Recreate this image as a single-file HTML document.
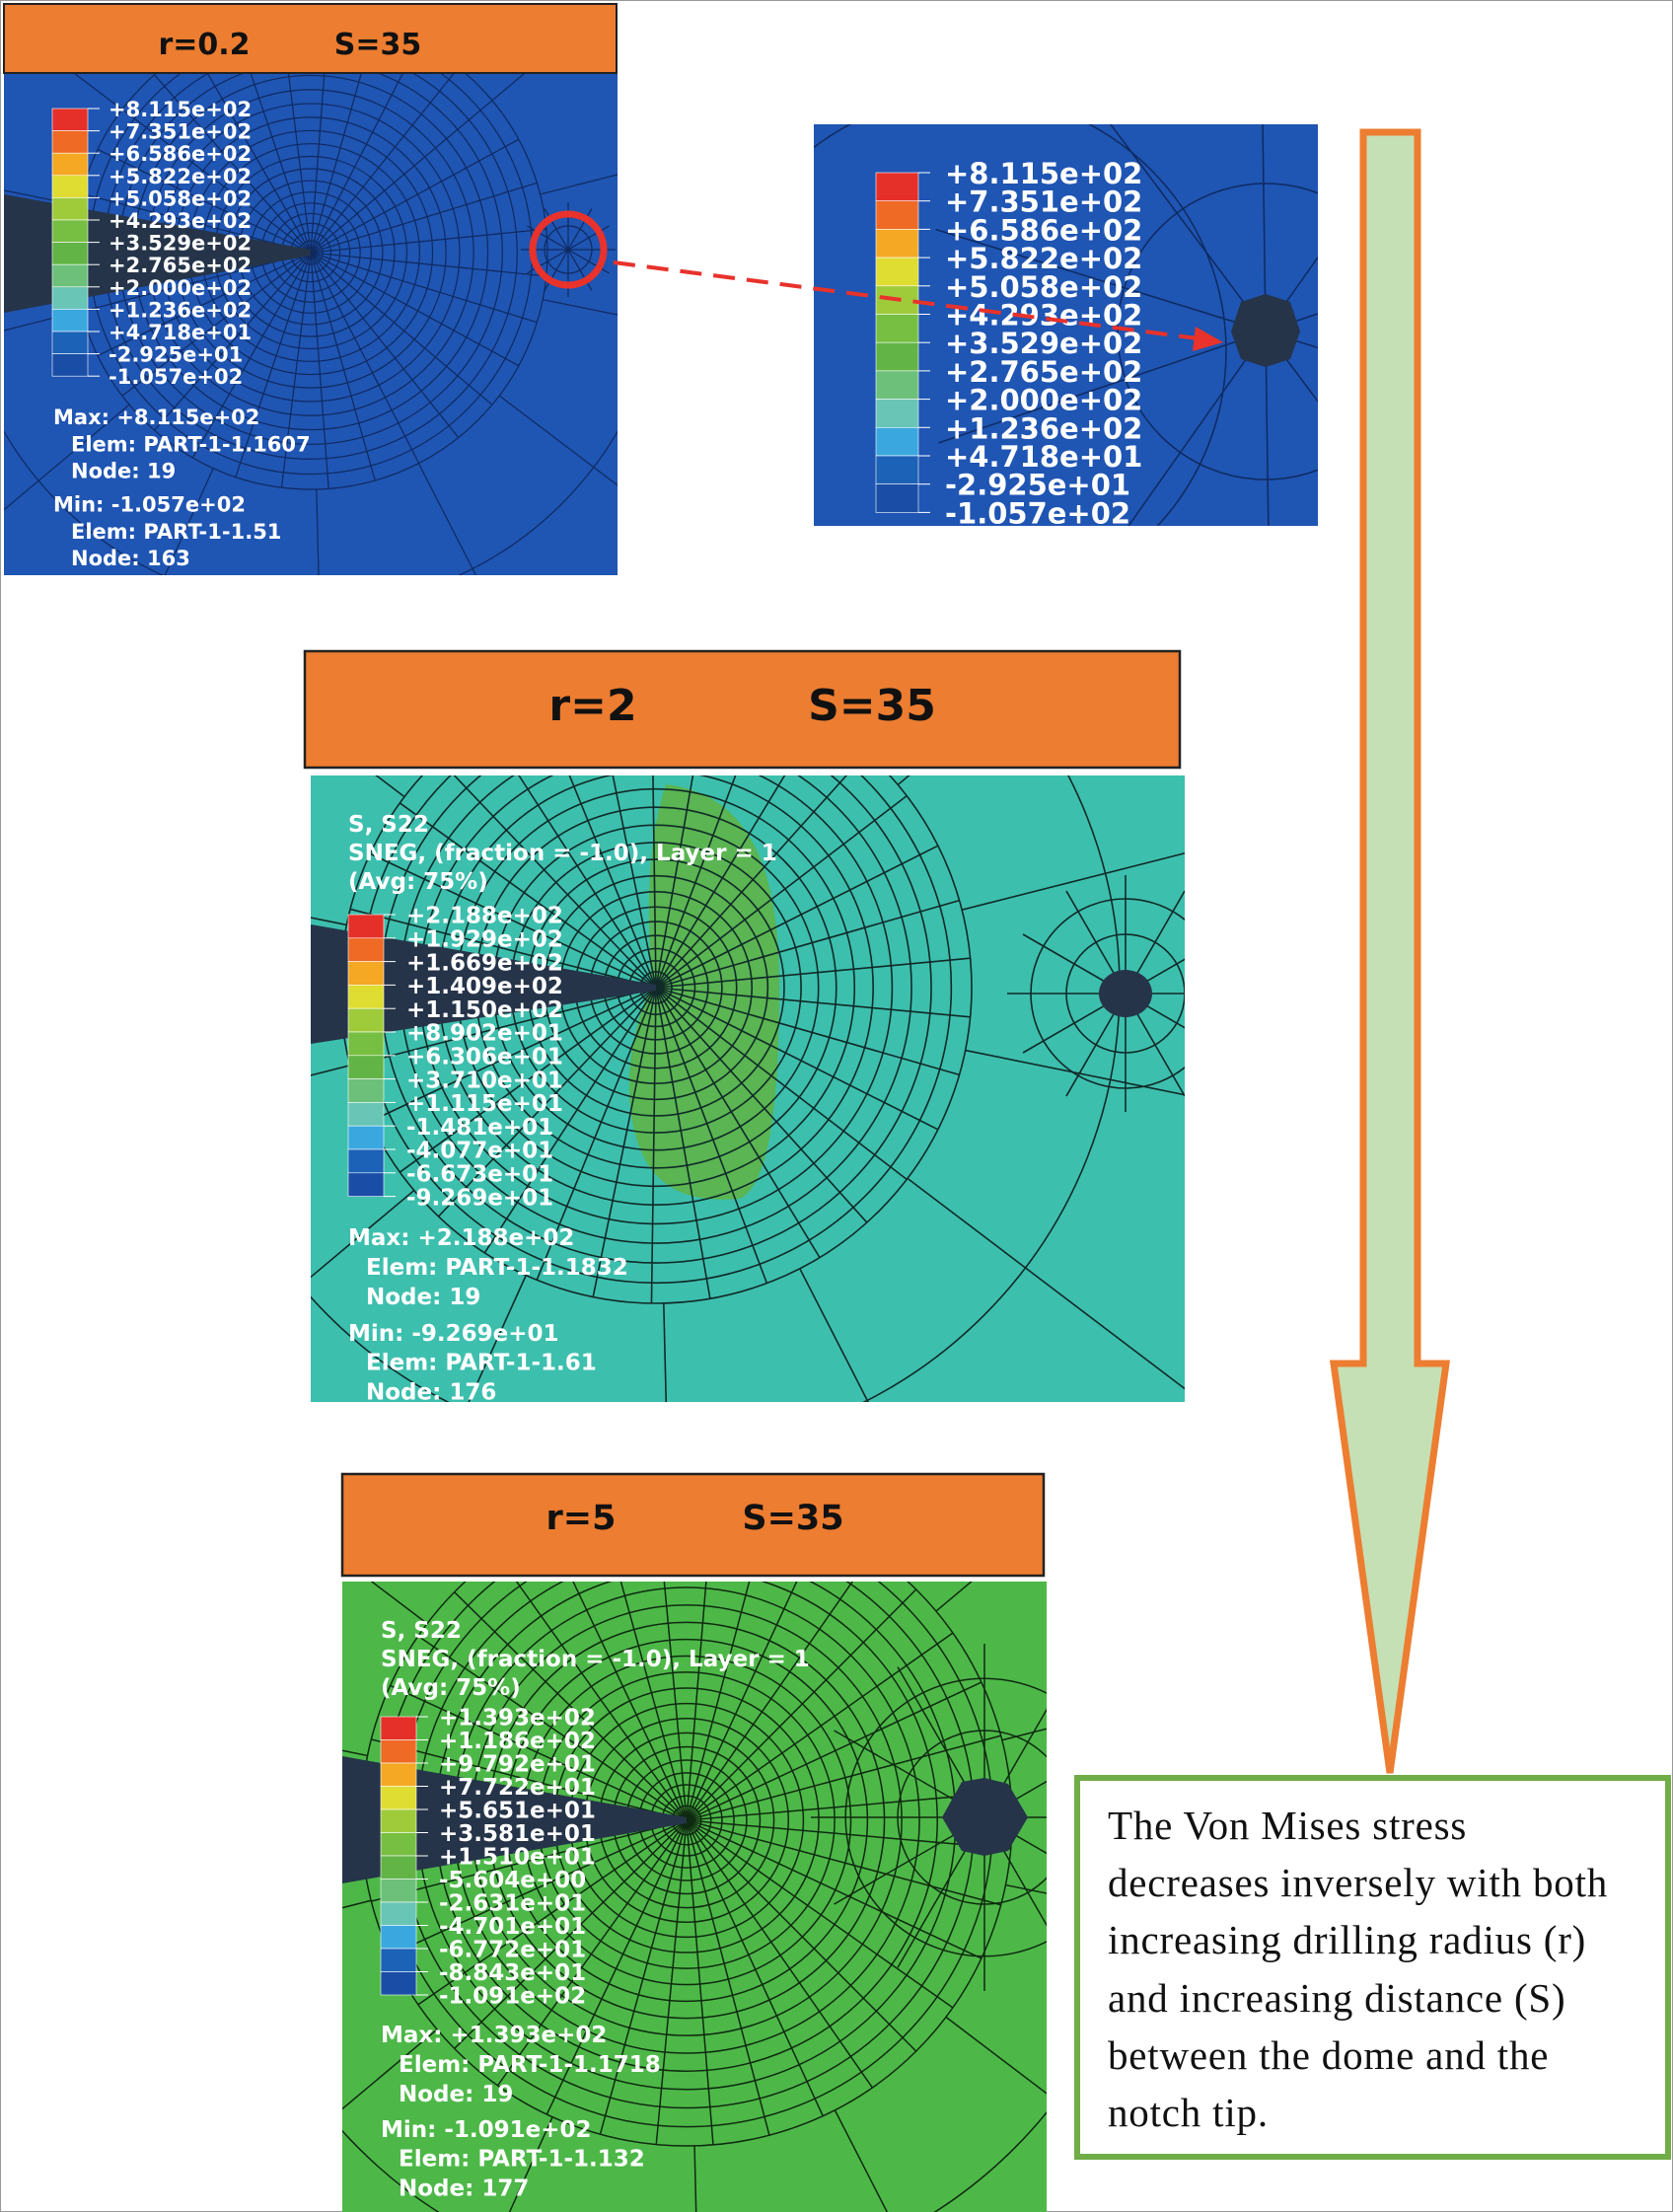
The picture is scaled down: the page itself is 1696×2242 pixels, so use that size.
<!DOCTYPE html>
<html><head><meta charset="utf-8">
<style>
html,body{margin:0;padding:0;background:#fff;overflow:hidden;width:1696px;height:2242px;}
svg{display:block;}
.lg{font-family:"DejaVu Sans","Liberation Sans",sans-serif;font-weight:bold;fill:#fff;}
</style></head>
<body>
<svg id="s" width="1696" height="2242" viewBox="0 0 1696 2242" xmlns="http://www.w3.org/2000/svg">
<rect x="0.5" y="0.5" width="1695" height="2241" fill="#fff" stroke="#999" stroke-width="1"/>
<defs>
<clipPath id="c1"><rect x="4" y="74" width="622" height="509"/></clipPath>
<clipPath id="c2"><rect x="825" y="126" width="511" height="407"/></clipPath>
<clipPath id="c3"><rect x="315" y="786" width="886" height="635"/></clipPath>
<clipPath id="c4"><rect x="347" y="1603" width="714" height="639"/></clipPath>
</defs>

<rect x="4" y="74" width="622" height="509" fill="#1f55b3"/>
<g id="m1" clip-path="url(#c1)" stroke="#0f2a60" stroke-width="1.2" fill="none"></g>
<polygon points="4,197 315,253 315,259 4,317" fill="#253449"/>
<circle cx="576" cy="253" r="36" fill="none" stroke="#e8322b" stroke-width="7"/>
<rect x="4" y="4" width="621" height="70" fill="#ed7d31" stroke="#222" stroke-width="2"/>
<text x="207" y="55" font-family="DejaVu Sans,sans-serif" font-weight="bold" font-size="30" text-anchor="middle" fill="#111">r=0.2</text>
<text x="383" y="55" font-family="DejaVu Sans,sans-serif" font-weight="bold" font-size="30" text-anchor="middle" fill="#111">S=35</text>
<g id="l1"></g>

<rect x="825" y="126" width="511" height="407" fill="#1f55b3"/>
<g id="m2" clip-path="url(#c2)" stroke="#0f2a60" stroke-width="1.5" fill="none"></g>
<polygon points="1258,306 1283,298 1308,306 1318,336 1308,364 1283,372 1258,364 1248,336" fill="#253449"/>
<g id="l2"></g>
<line x1="622" y1="266" x2="1222" y2="344" stroke="#e8322b" stroke-width="4" stroke-dasharray="22,12"/>
<polygon points="1240,347 1212,331 1209,356" fill="#e8322b"/>

<polygon points="1382,134 1437,134 1437,1382 1466,1382 1409,1797 1352,1382 1382,1382" fill="#c5e0b4" stroke="#ed7d31" stroke-width="7" stroke-linejoin="miter"/>

<rect x="309" y="660" width="887" height="118" fill="#ed7d31" stroke="#222" stroke-width="2.5"/>
<text x="601" y="730" font-family="DejaVu Sans,sans-serif" font-weight="bold" font-size="44" text-anchor="middle" fill="#111">r=2</text>
<text x="884" y="730" font-family="DejaVu Sans,sans-serif" font-weight="bold" font-size="44" text-anchor="middle" fill="#111">S=35</text>
<rect x="315" y="786" width="886" height="635" fill="#3dbfae"/>
<path d="M675,795 C760,805 790,880 790,1000 C790,1120 780,1200 750,1215 C690,1220 650,1200 640,1130 C630,1060 660,1000 660,1000 C660,960 650,870 675,795 Z" fill="#5ab552"/>
<g id="m3" clip-path="url(#c3)" stroke="#102a28" stroke-width="1.6" fill="none"></g>
<polygon points="315,937 665,998 665,1004 315,1058" fill="#253449"/>
<ellipse cx="1141" cy="1007" rx="27" ry="24" fill="#253449"/>
<g id="l3"></g>

<rect x="347" y="1494" width="711" height="103" fill="#ed7d31" stroke="#222" stroke-width="2.5"/>
<text x="589" y="1550" font-family="DejaVu Sans,sans-serif" font-weight="bold" font-size="35" text-anchor="middle" fill="#111">r=5</text>
<text x="804" y="1550" font-family="DejaVu Sans,sans-serif" font-weight="bold" font-size="35" text-anchor="middle" fill="#111">S=35</text>
<rect x="347" y="1603" width="714" height="639" fill="#4db848"/>
<g id="m4" clip-path="url(#c4)" stroke="#0f2a10" stroke-width="1.5" fill="none"></g>
<polygon points="347,1780 696,1842 696,1848 347,1909" fill="#253449"/>
<polygon points="975,1806 998,1802 1022,1808 1042,1842 1022,1876 998,1881 975,1876 955,1842" fill="#253449"/>
<g id="l4"></g>

<rect x="1092" y="1802" width="599" height="384" fill="#fff" stroke="#70ad47" stroke-width="6"/>
<g font-family="Liberation Serif,serif" font-size="41" fill="#111" letter-spacing="0.8">
<text x="1123" y="1864">The Von Mises stress</text>
<text x="1123" y="1922">decreases inversely with both</text>
<text x="1123" y="1980">increasing drilling radius (r)</text>
<text x="1123" y="2039">and increasing distance (S)</text>
<text x="1123" y="2097">between the dome and the</text>
<text x="1123" y="2155">notch tip.</text>
</g>
</svg>
<script>
var NS="http://www.w3.org/2000/svg";
function el(p,t,a,txt){var e=document.createElementNS(NS,t);for(var k in a)e.setAttribute(k,a[k]);if(txt!==undefined)e.textContent=txt;document.getElementById(p).appendChild(e);return e;}
function mesh(id,cx,cy,nr,rmax,nrad,outer){
  for(var i=0;i<nrad;i++){var a=-Math.PI*0.92+i*(1.84*Math.PI/(nrad-1));
    el(id,"line",{x1:cx,y1:cy,x2:cx+Math.cos(a)*rmax,y2:cy+Math.sin(a)*rmax});}
  for(var j=1;j<=nr;j++){var r=rmax*Math.pow(j/nr,1.3);el(id,"circle",{cx:cx,cy:cy,r:r});}
  for(var k=0;k<outer.length;k++){el(id,"circle",{cx:cx,cy:cy,r:outer[k]});}
  for(var i=0;i<14;i++){var a=i*Math.PI/7+0.2;el(id,"line",{x1:cx+Math.cos(a)*rmax,y1:cy+Math.sin(a)*rmax,x2:cx+Math.cos(a)*rmax*3,y2:cy+Math.sin(a)*rmax*3});}
}
function hole(id,cx,cy,r){for(var i=0;i<12;i++){var a=i*Math.PI/6;el(id,"line",{x1:cx,y1:cy,x2:cx+Math.cos(a)*r*4,y2:cy+Math.sin(a)*r*4});}
 el(id,"circle",{cx:cx,cy:cy,r:r*2});el(id,"circle",{cx:cx,cy:cy,r:r*3.2});}
mesh("m1",315,256,20,240,30,[360]);hole("m1",576,253,12);
mesh("m3",665,1001,20,320,32,[470]);hole("m3",1141,1007,30);
mesh("m4",696,1845,22,330,34,[470]);hole("m4",998,1842,44);
(function(){var cx=1283,cy=336;for(var i=0;i<10;i++){var a=i*Math.PI/5+0.3;el("m2","line",{x1:cx,y1:cy,x2:cx+Math.cos(a)*350,y2:cy+Math.sin(a)*350});}
el("m2","circle",{cx:cx,cy:cy,r:150});el("m2","circle",{cx:cx-300,cy:cy+20,r:260});})();
var cols=["#e5302a","#ee6a25","#f4a823","#dfdc32","#9fcb3b","#77bf42","#62b446","#6cc07a","#69c5b5","#3aa8df","#1c62b7","#1a4ea6","#1e55b3"];
function legend(id,x,y,w,step,vals,fs,tx){
  for(var i=0;i<vals.length;i++){
    if(i<12){el(id,"rect",{x:x,y:y+i*step,width:w,height:step,fill:cols[i],stroke:"#fff","stroke-width":0.6});}
    el(id,"line",{x1:x+w,y1:y+i*step,x2:x+w+12,y2:y+i*step,stroke:"#fff","stroke-width":1});
    el(id,"text",{x:tx,y:y+i*step+fs*0.38,"font-size":fs,"class":"lg"},vals[i]);
  }
}
var v1=["+8.115e+02","+7.351e+02","+6.586e+02","+5.822e+02","+5.058e+02","+4.293e+02","+3.529e+02","+2.765e+02","+2.000e+02","+1.236e+02","+4.718e+01","-2.925e+01","-1.057e+02"];
legend("l1",53,110,36,22.6,v1,21,110);
legend("l2",888,175,43,28.7,v1,29,958);
var v3=["+2.188e+02","+1.929e+02","+1.669e+02","+1.409e+02","+1.150e+02","+8.902e+01","+6.306e+01","+3.710e+01","+1.115e+01","-1.481e+01","-4.077e+01","-6.673e+01","-9.269e+01"];
legend("l3",353,927,36,23.8,v3,23,412);
var v4=["+1.393e+02","+1.186e+02","+9.792e+01","+7.722e+01","+5.651e+01","+3.581e+01","+1.510e+01","-5.604e+00","-2.631e+01","-4.701e+01","-6.772e+01","-8.843e+01","-1.091e+02"];
legend("l4",386,1740,36,23.5,v4,23,445);
function info(id,x,y,fs,lines,gap){var yy=y;for(var i=0;i<lines.length;i++){el(id,"text",{x:x+(lines[i][1]?18:0),y:yy,"font-size":fs,"class":"lg"},lines[i][0]);yy+= (i==2?gap:fs*1.3);}}
info("l1",54,430,21,[["Max: +8.115e+02",0],["Elem: PART-1-1.1607",1],["Node: 19",1],["Min: -1.057e+02",0],["Elem: PART-1-1.51",1],["Node: 163",1]],34);
info("l3",353,1262,23,[["Max: +2.188e+02",0],["Elem: PART-1-1.1832",1],["Node: 19",1],["Min: -9.269e+01",0],["Elem: PART-1-1.61",1],["Node: 176",1]],37);
info("l4",386,2070,23,[["Max: +1.393e+02",0],["Elem: PART-1-1.1718",1],["Node: 19",1],["Min: -1.091e+02",0],["Elem: PART-1-1.132",1],["Node: 177",1]],36);
function hdr(id,x,y,fs){el(id,"text",{x:x,y:y,"font-size":fs,"class":"lg"},"S, S22");el(id,"text",{x:x,y:y+29,"font-size":fs,"class":"lg"},"SNEG, (fraction = -1.0), Layer = 1");el(id,"text",{x:x,y:y+58,"font-size":fs,"class":"lg"},"(Avg: 75%)");}
hdr("l3",353,843,23);hdr("l4",386,1660,23);
</script>
</body></html>
